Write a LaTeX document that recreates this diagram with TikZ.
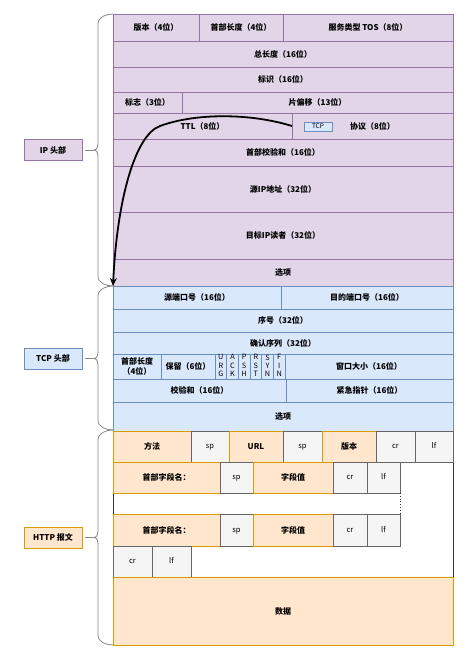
\documentclass[tikz,border=0pt]{standalone}
\usepackage{fontspec}
\setmainfont{Noto Sans CJK SC}
\usepackage{tikz}
\usetikzlibrary{arrows.meta}
\definecolor{ipfill}{HTML}{E1D5E7}
\definecolor{ipline}{HTML}{9673A6}
\definecolor{tcpfill}{HTML}{DAE8FC}
\definecolor{tcpline}{HTML}{6C8EBF}
\definecolor{httpfill}{HTML}{FFE6CC}
\definecolor{httpline}{HTML}{D79B00}
\definecolor{sepfill}{HTML}{F5F5F5}
\definecolor{sepline}{HTML}{666666}
\definecolor{braceline}{HTML}{888888}
\begin{document}
\begin{tikzpicture}[x=1pt,y=-1pt,
  ipbox/.style={draw=ipline,fill=ipfill,line width=0.8pt},
  tcpbox/.style={draw=tcpline,fill=tcpfill,line width=0.8pt},
  httpbox/.style={draw=httpline,fill=httpfill,line width=0.8pt},
  sepbox/.style={draw=sepline,fill=sepfill,line width=0.8pt},
  txt/.style={font=\fontsize{8}{9.5}\selectfont\bfseries,align=center,inner sep=0,outer sep=0},
  septxt/.style={font=\fontsize{7.5}{9}\selectfont,inner sep=0,text height=4pt,text depth=0pt},
  flagtxt/.style={font=\fontsize{7.3}{8.2}\selectfont,align=center,inner sep=0,yshift=1pt},
  sidelabel/.style={minimum width=58,minimum height=21,line width=0.8pt,inner sep=0,
    font=\fontsize{8}{9.5}\selectfont\bfseries},
  bracket/.style={draw=braceline,line width=0.8pt},
  flow/.style={draw=black,line width=1.8pt,-{Stealth[length=8,width=7]}}]
\useasboundingbox (0,0) rectangle (466,654);
\draw[ipbox] (113,14) rectangle (199,41) node[txt,pos=.5] (ver) {版本（4位）};
\draw[ipbox] (199,14) rectangle (283,41) node[txt,pos=.5] (hlen) {首部长度（4位）};
\draw[ipbox] (283,14) rectangle (453,41) node[txt,pos=.5] (tos) {服务类型 TOS（8位）};
\draw[ipbox] (113,41) rectangle (453,67) node[txt,pos=.5] (totlen) {总长度（16位）};
\draw[ipbox] (113,67) rectangle (453,92) node[txt,pos=.5] (ident) {标识（16位）};
\draw[ipbox] (113,92) rectangle (182,113) node[txt,pos=.5] (ipflags) {标志（3位）};
\draw[ipbox] (182,92) rectangle (453,113) node[txt,pos=.5] (fragoff) {片偏移（13位）};
\node[ipbox,txt,minimum width=179,minimum height=26] (ttl) at (202.5,126) {TTL（8位）};
\draw[ipbox] (292,113) rectangle (453,139) node[txt,pos=.5] (proto) {协议（8位）};
\node[tcpbox,minimum width=28,minimum height=9,inner sep=0,font=\fontsize{6.5}{7}\selectfont] (tcptag) at (318,126.5) {TCP};
\draw[ipbox] (113,139) rectangle (453,166) node[txt,pos=.5] (hcheck) {首部校验和（16位）};
\draw[ipbox] (113,166) rectangle (453,212) node[txt,pos=.5] (srcip) {源IP地址（32位）};
\draw[ipbox] (113,212) rectangle (453,259) node[txt,pos=.5] (dstip) {目标IP读者（32位）};
\draw[ipbox] (113,259) rectangle (453,286) node[txt,pos=.5] (ipopt) {选项};
\node[tcpbox,txt,minimum width=168,minimum height=23] (srcport) at (197,297.5) {源端口号（16位）};
\draw[tcpbox] (281,286) rectangle (453,309) node[txt,pos=.5] (dstport) {目的端口号（16位）};
\draw[tcpbox] (113,309) rectangle (453,332) node[txt,pos=.5] (seq) {序号（32位）};
\draw[tcpbox] (113,332) rectangle (453,354) node[txt,pos=.5] (acknum) {确认序列（32位）};
\draw[tcpbox] (113,354) rectangle (161,379) node[txt,pos=.5] (doff) {首部长度\\（4位）};
\draw[tcpbox] (161,354) rectangle (215,379) node[txt,pos=.5] (rsv) {保留（6位）};
\draw[tcpbox] (215,354) rectangle (226.7,379) node[flagtxt,pos=.5] (urg) {U\\R\\G};
\draw[tcpbox] (226.7,354) rectangle (238.3,379) node[flagtxt,pos=.5] (ackf) {A\\C\\K};
\draw[tcpbox] (238.3,354) rectangle (250,379) node[flagtxt,pos=.5] (psh) {P\\S\\H};
\draw[tcpbox] (250,354) rectangle (261.7,379) node[flagtxt,pos=.5] (rst) {R\\S\\T};
\draw[tcpbox] (261.7,354) rectangle (273.3,379) node[flagtxt,pos=.5] (syn) {S\\Y\\N};
\draw[tcpbox] (273.3,354) rectangle (285,379) node[flagtxt,pos=.5] (fin) {F\\I\\N};
\draw[tcpbox] (285,354) rectangle (453,379) node[txt,pos=.5] (win) {窗口大小（16位）};
\draw[tcpbox] (113,379) rectangle (286,402) node[txt,pos=.5] (tcpsum) {校验和（16位）};
\draw[tcpbox] (286,379) rectangle (453,402) node[txt,pos=.5] (urgptr) {紧急指针（16位）};
\draw[tcpbox] (113,402) rectangle (453,431) node[txt,pos=.5] (tcpopt) {选项};
\draw[draw=black!80,fill=white,line width=0.8pt] (113,462) rectangle (453,577);
\draw[httpbox] (113,431) rectangle (191,462) node[txt,pos=.5] (method) {方法};
\draw[sepbox] (191,431) rectangle (229,462) node[septxt,pos=.5] (spa) {sp};
\draw[httpbox] (229,431) rectangle (283,462) node[txt,pos=.5] (url) {URL};
\draw[sepbox] (283,431) rectangle (322,462) node[septxt,pos=.5] (spb) {sp};
\draw[httpbox] (322,431) rectangle (376,462) node[txt,pos=.5] (httpver) {版本};
\draw[sepbox] (376,431) rectangle (415,462) node[septxt,pos=.5] (cra) {cr};
\draw[sepbox] (415,431) rectangle (453,462) node[septxt,pos=.5] (lfa) {lf};
\draw[httpbox] (113,462) rectangle (220,493) node[txt,pos=.5] (fieldname) {首部字段名：};
\draw[sepbox] (220,462) rectangle (253,493) node[septxt,pos=.5] (spc) {sp};
\draw[httpbox] (253,462) rectangle (333,493) node[txt,pos=.5] (fieldval) {字段值};
\draw[sepbox] (333,462) rectangle (367,493) node[septxt,pos=.5] (crb) {cr};
\draw[sepbox] (367,462) rectangle (400,493) node[septxt,pos=.5] (lfb) {lf};
\draw[draw=black!80,line width=0.8pt,dotted] (400,493) -- (400,514);
\draw[httpbox] (113,514) rectangle (220,546) node[txt,pos=.5] (fieldnameb) {首部字段名：};
\draw[sepbox] (220,514) rectangle (253,546) node[septxt,pos=.5] (spd) {sp};
\draw[httpbox] (253,514) rectangle (333,546) node[txt,pos=.5] (fieldvalb) {字段值};
\draw[sepbox] (333,514) rectangle (367,546) node[septxt,pos=.5] (crc) {cr};
\draw[sepbox] (367,514) rectangle (400,546) node[septxt,pos=.5] (lfc) {lf};
\draw[sepbox] (113,546) rectangle (152,577) node[septxt,pos=.5] (crd) {cr};
\draw[sepbox] (152,546) rectangle (191,577) node[septxt,pos=.5] (lfd) {lf};
\draw[httpbox] (113,577) rectangle (453,645) node[txt,pos=.5] (body) {数据};
\draw[flow] (ttl.east) .. controls (250,113) and (195,113) .. (160,126) .. controls (135,135) and (117,200) .. (srcport.north west);
\node[sidelabel,draw=ipline,fill=ipfill] (iplabel) at (53,150) {IP 头部};
\node[sidelabel,draw=tcpline,fill=tcpfill] (tcplabel) at (53,358.5) {TCP 头部};
\node[sidelabel,draw=httpline,fill=httpfill] (httplabel) at (53,537.5) {HTTP 报文};
\coordinate (iptip) at (94,150);
\coordinate (tcptip) at (94,358.5);
\coordinate (httptip) at (94,537.5);
\draw[bracket] (113,14) to[out=180,in=90] (98,24) -- (98,142) to[out=-90,in=0] (iptip) to[out=0,in=90] (98,158) -- (98,276) to[out=-90,in=180] (113,286);
\draw[bracket] (113,286) to[out=180,in=90] (98,296) -- (98,350.5) to[out=-90,in=0] (tcptip) to[out=0,in=90] (98,366.5) -- (98,420) to[out=-90,in=180] (113,430);
\draw[bracket] (113,430) to[out=180,in=90] (98,440) -- (98,529.5) to[out=-90,in=0] (httptip) to[out=0,in=90] (98,545.5) -- (98,635) to[out=-90,in=180] (113,645);
\draw[bracket,shorten <=3] (iplabel) -- (iptip);
\draw[bracket,shorten <=3] (tcplabel) -- (tcptip);
\draw[bracket,shorten <=3] (httplabel) -- (httptip);
\end{tikzpicture}
\end{document}
